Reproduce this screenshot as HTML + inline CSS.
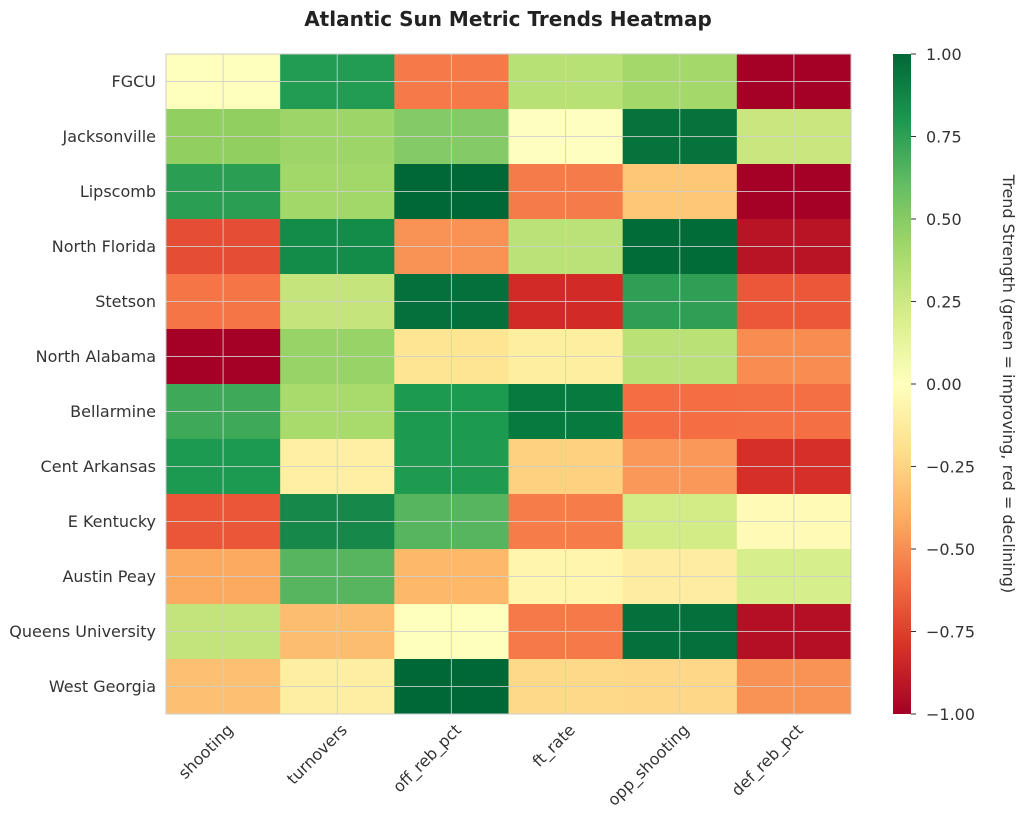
<!DOCTYPE html>
<html><head><meta charset="utf-8"><style>body{margin:0;background:#fff}</style></head><body>
<svg width="1024" height="821" xmlns="http://www.w3.org/2000/svg" font-family="DejaVu Sans, Liberation Sans, sans-serif">
<defs>
<linearGradient id="cb" x1="0" y1="1" x2="0" y2="0">
<stop offset="0" stop-color="#a50026"/><stop offset="0.1" stop-color="#d73027"/><stop offset="0.2" stop-color="#f46d43"/><stop offset="0.3" stop-color="#fdae61"/><stop offset="0.4" stop-color="#fee08b"/><stop offset="0.5" stop-color="#ffffbf"/><stop offset="0.6" stop-color="#d9ef8b"/><stop offset="0.7" stop-color="#a6d96a"/><stop offset="0.8" stop-color="#66bd63"/><stop offset="0.9" stop-color="#1a9850"/><stop offset="1" stop-color="#006837"/>
</linearGradient>
</defs>
<text x="508" y="26" text-anchor="middle" font-size="20" font-weight="bold" fill="#222">Atlantic Sun Metric Trends Heatmap</text>
<g>
<g transform="translate(0,54)"><rect x="166" width="115" height="56" fill="#fefebd"/><rect x="280.17" width="115" height="56" fill="#219c52"/><rect x="394.33" width="115" height="56" fill="#f67a49"/><rect x="508.5" width="115" height="56" fill="#b7e075"/><rect x="622.67" width="115" height="56" fill="#a5d86a"/><rect x="736.83" width="114.2" height="56" fill="#a50026"/></g>
<g transform="translate(0,109)"><rect x="166" width="115" height="56" fill="#91cf60"/><rect x="280.17" width="115" height="56" fill="#9dd569"/><rect x="394.33" width="115" height="56" fill="#84ca66"/><rect x="508.5" width="115" height="56" fill="#fefebe"/><rect x="622.67" width="115" height="56" fill="#06733d"/><rect x="736.83" width="114.2" height="56" fill="#cae77f"/></g>
<g transform="translate(0,164)"><rect x="166" width="115" height="56" fill="#2a9f54"/><rect x="280.17" width="115" height="56" fill="#a2d76a"/><rect x="394.33" width="115" height="56" fill="#006837"/><rect x="508.5" width="115" height="56" fill="#f67b4a"/><rect x="622.67" width="115" height="56" fill="#fdc776"/><rect x="736.83" width="114.2" height="56" fill="#a50026"/></g>
<g transform="translate(0,219)"><rect x="166" width="115" height="56" fill="#e54e35"/><rect x="280.17" width="115" height="56" fill="#138c4a"/><rect x="394.33" width="115" height="56" fill="#f99355"/><rect x="508.5" width="115" height="56" fill="#bbe278"/><rect x="622.67" width="115" height="56" fill="#026c39"/><rect x="736.83" width="114.2" height="56" fill="#b91326"/></g>
<g transform="translate(0,274)"><rect x="166" width="115" height="56" fill="#f57547"/><rect x="280.17" width="115" height="56" fill="#c5e57c"/><rect x="394.33" width="115" height="56" fill="#04703b"/><rect x="508.5" width="115" height="56" fill="#d22b27"/><rect x="622.67" width="115" height="56" fill="#2f9f55"/><rect x="736.83" width="114.2" height="56" fill="#ea5739"/></g>
<g transform="translate(0,329)"><rect x="166" width="115" height="56" fill="#a50026"/><rect x="280.17" width="115" height="56" fill="#98d368"/><rect x="394.33" width="115" height="56" fill="#fee593"/><rect x="508.5" width="115" height="56" fill="#feeea0"/><rect x="622.67" width="115" height="56" fill="#b9e176"/><rect x="736.83" width="114.2" height="56" fill="#f88d52"/></g>
<g transform="translate(0,384)"><rect x="166" width="115" height="56" fill="#3fa95a"/><rect x="280.17" width="115" height="56" fill="#a8da6c"/><rect x="394.33" width="115" height="56" fill="#1c9a50"/><rect x="508.5" width="115" height="56" fill="#077a40"/><rect x="622.67" width="115" height="56" fill="#f46d43"/><rect x="736.83" width="114.2" height="56" fill="#f47044"/></g>
<g transform="translate(0,439)"><rect x="166" width="115" height="56" fill="#1d9a51"/><rect x="280.17" width="115" height="56" fill="#feefa3"/><rect x="394.33" width="115" height="56" fill="#1e9a51"/><rect x="508.5" width="115" height="56" fill="#fdd17f"/><rect x="622.67" width="115" height="56" fill="#f99858"/><rect x="736.83" width="114.2" height="56" fill="#d62f27"/></g>
<g transform="translate(0,494)"><rect x="166" width="115" height="56" fill="#e95638"/><rect x="280.17" width="115" height="56" fill="#16884a"/><rect x="394.33" width="115" height="56" fill="#58b55f"/><rect x="508.5" width="115" height="56" fill="#f67d4a"/><rect x="622.67" width="115" height="56" fill="#d2ec86"/><rect x="736.83" width="114.2" height="56" fill="#fffab6"/></g>
<g transform="translate(0,549)"><rect x="166" width="115" height="56" fill="#fcaa5f"/><rect x="280.17" width="115" height="56" fill="#58b55f"/><rect x="394.33" width="115" height="56" fill="#fdb86a"/><rect x="508.5" width="115" height="56" fill="#fff5ac"/><rect x="622.67" width="115" height="56" fill="#feeca0"/><rect x="736.83" width="114.2" height="56" fill="#d7ee8c"/></g>
<g transform="translate(0,604)"><rect x="166" width="115" height="56" fill="#c3e47c"/><rect x="280.17" width="115" height="56" fill="#fdbd6e"/><rect x="394.33" width="115" height="56" fill="#ffffbd"/><rect x="508.5" width="115" height="56" fill="#f67a49"/><rect x="622.67" width="115" height="56" fill="#04703b"/><rect x="736.83" width="114.2" height="56" fill="#b50f26"/></g>
<g transform="translate(0,659)"><rect x="166" width="115" height="55" fill="#fdc072"/><rect x="280.17" width="115" height="55" fill="#feeea1"/><rect x="394.33" width="115" height="55" fill="#006837"/><rect x="508.5" width="115" height="55" fill="#fed989"/><rect x="622.67" width="115" height="55" fill="#fed888"/><rect x="736.83" width="114.2" height="55" fill="#f99355"/></g>
</g>
<g stroke="#d0d0d0" stroke-width="1" opacity="0.85">
<line x1="223.1" y1="54" x2="223.1" y2="714"/><line x1="337.25" y1="54" x2="337.25" y2="714"/><line x1="451.4" y1="54" x2="451.4" y2="714"/><line x1="565.6" y1="54" x2="565.6" y2="714"/><line x1="679.75" y1="54" x2="679.75" y2="714"/><line x1="793.9" y1="54" x2="793.9" y2="714"/>
<line x1="166" y1="81.5" x2="851" y2="81.5"/><line x1="166" y1="136.5" x2="851" y2="136.5"/><line x1="166" y1="191.5" x2="851" y2="191.5"/><line x1="166" y1="246.5" x2="851" y2="246.5"/><line x1="166" y1="301.5" x2="851" y2="301.5"/><line x1="166" y1="356.5" x2="851" y2="356.5"/><line x1="166" y1="411.5" x2="851" y2="411.5"/><line x1="166" y1="466.5" x2="851" y2="466.5"/><line x1="166" y1="521.5" x2="851" y2="521.5"/><line x1="166" y1="576.5" x2="851" y2="576.5"/><line x1="166" y1="631.5" x2="851" y2="631.5"/><line x1="166" y1="686.5" x2="851" y2="686.5"/>
</g>
<rect x="166" y="54" width="685" height="660" fill="none" stroke="#ccc"/>
<g font-size="16" fill="#333" text-anchor="end">
<text x="156" y="87">FGCU</text><text x="156" y="142">Jacksonville</text><text x="156" y="197">Lipscomb</text><text x="156" y="252">North Florida</text><text x="156" y="307">Stetson</text><text x="156" y="362">North Alabama</text><text x="156" y="417">Bellarmine</text><text x="156" y="472">Cent Arkansas</text><text x="156" y="527">E Kentucky</text><text x="156" y="582">Austin Peay</text><text x="156" y="637">Queens University</text><text x="156" y="692">West Georgia</text>
<text transform="translate(234,731) rotate(-45)">shooting</text>
<text transform="translate(348,731) rotate(-45)">turnovers</text>
<text transform="translate(462,731) rotate(-45)">off_reb_pct</text>
<text transform="translate(576,731) rotate(-45)">ft_rate</text>
<text transform="translate(690,731) rotate(-45)">opp_shooting</text>
<text transform="translate(804,731) rotate(-45)">def_reb_pct</text>
</g>
<rect x="893" y="54" width="18" height="660" fill="url(#cb)"/>
<g stroke="#333"><line x1="911" y1="54" x2="916" y2="54"/><line x1="911" y1="136.5" x2="916" y2="136.5"/><line x1="911" y1="219" x2="916" y2="219"/><line x1="911" y1="301.5" x2="916" y2="301.5"/><line x1="911" y1="384" x2="916" y2="384"/><line x1="911" y1="466.5" x2="916" y2="466.5"/><line x1="911" y1="549" x2="916" y2="549"/><line x1="911" y1="631.5" x2="916" y2="631.5"/><line x1="911" y1="714" x2="916" y2="714"/></g>
<g font-size="16" fill="#333">
<text x="926" y="60">1.00</text><text x="926" y="142.5">0.75</text><text x="926" y="225">0.50</text><text x="926" y="307.5">0.25</text><text x="926" y="390">0.00</text><text x="926" y="472.5">−0.25</text><text x="926" y="555">−0.50</text><text x="926" y="637.5">−0.75</text><text x="926" y="720">−1.00</text>
</g>
<text transform="translate(1003,384) rotate(90)" text-anchor="middle" font-size="16" fill="#333">Trend Strength (green = improving, red = declining)</text>
</svg>
</body></html>
